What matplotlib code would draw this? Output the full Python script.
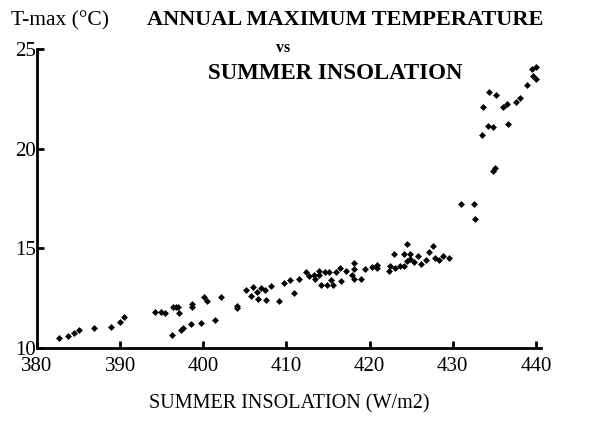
import numpy as np
import matplotlib
matplotlib.use("Agg")
import matplotlib.pyplot as plt

# summer insolation (W/m2) and annual max temperature (deg C)
insolation = [382.6, 383.7, 384.5, 385.0, 386.8, 388.9, 390.0, 390.5,
              394.2, 394.9, 395.4, 396.2, 396.4, 396.7, 397.0, 397.1, 397.3, 397.5,
              398.5, 398.7, 398.7, 399.7, 400.1, 400.5, 401.4, 402.1,
              404.0, 404.0, 405.1, 405.7, 406.0, 406.4, 406.6, 407.0, 407.45, 407.5,
              408.1, 409.1, 409.7, 410.4, 410.9, 411.5, 412.3, 412.7, 413.3, 413.45,
              413.9, 413.9, 414.1, 414.6, 414.9, 415.1, 415.3, 415.6, 416.0, 416.5,
              416.6, 417.2, 417.9, 418.1, 418.1, 418.1, 419.0, 419.5, 420.3, 420.9,
              420.9, 422.3, 422.4, 422.9, 423.1, 423.6, 424.1, 424.5, 424.2, 424.5,
              424.9, 424.9, 425.3, 425.8, 426.2, 426.8, 427.2, 427.6, 427.9, 428.3,
              428.8, 429.5,
              431.0, 432.55, 432.65, 434.8, 435.1, 433.5, 434.2, 434.8, 436.6, 433.6,
              434.4, 435.2, 436.1, 436.5, 437.6, 438.05, 438.9, 439.5, 440.0, 439.7,
              440.0]
tmax = [10.5, 10.6, 10.72, 10.9, 10.97, 11.02, 11.31, 11.55,
        11.81, 11.81, 11.74, 10.64, 12.05, 12.05, 12.05, 11.72, 10.9, 10.98,
        11.17, 12.19, 12.02, 11.24, 12.57, 12.33, 11.41, 12.55,
        12.0, 12.1, 12.9, 12.62, 13.03, 12.82, 12.43, 12.99, 12.9, 12.41,
        13.08, 12.36, 13.26, 13.38, 12.76, 13.43, 13.82, 13.61, 13.66, 13.43,
        13.87, 13.64, 13.17, 13.79, 13.17, 13.79, 13.38, 13.17, 13.79, 14.01,
        13.35, 13.86, 13.64, 14.23, 13.93, 13.43, 13.47, 13.96, 14.05, 14.14,
        14.0, 13.87, 14.08, 14.7, 14.02, 14.09, 14.7, 15.2, 14.08, 14.38,
        14.7, 14.48, 14.3, 14.6, 14.2, 14.4, 14.8, 15.1, 14.5, 14.4,
        14.6, 14.5,
        17.2, 17.2, 16.45, 18.87, 19.05, 20.67, 21.16, 21.09, 21.23, 22.1,
        22.82, 22.7, 22.08, 22.26, 22.36, 22.52, 23.2, 23.98, 24.08, 23.63,
        23.49]

xticks = [380, 390, 400, 410, 420, 430, 440]
yticks = [10, 15, 20, 25]

plt.rcParams['font.family'] = ['Liberation Serif', 'DejaVu Serif']

fig = plt.figure(figsize=(6.07, 4.23), dpi=100)
ax = fig.add_axes([0.061, 0.178, 0.83, 0.706])

ax.plot(insolation, tmax, 'D', color='black', markersize=3.5, markeredgewidth=0)

ax.set_xlim(380, 440.6)
ax.set_ylim(10, 25)
ax.set_xticks(xticks)
ax.set_yticks(yticks)
ax.spines['top'].set_visible(False)
ax.spines['right'].set_visible(False)
ax.spines['left'].set_linewidth(2)
ax.spines['bottom'].set_linewidth(2)
ax.spines['left'].set_bounds(10, 25)
ax.spines['bottom'].set_bounds(380, 440.6)
ax.tick_params(axis='both', direction='in', length=5, width=2, labelsize=15)
ax.tick_params(axis='x', pad=7)
ax.tick_params(axis='y', pad=1)

ax.set_xlabel('SUMMER INSOLATION (W/m2)', fontsize=14.5, labelpad=13)

fig.text(0.018, 0.952, 'T-max (°C)', fontsize=15.5, ha='left', va='center')
fig.text(0.568, 0.952, 'ANNUAL MAXIMUM TEMPERATURE', fontsize=16,
         fontweight='bold', ha='center', va='center')
fig.text(0.466, 0.886, 'vs', fontsize=11.5, fontweight='bold', ha='center', va='center')
fig.text(0.552, 0.826, 'SUMMER INSOLATION', fontsize=16.5, fontweight='bold',
         ha='center', va='center')

fig.savefig('out.png', dpi=100)
